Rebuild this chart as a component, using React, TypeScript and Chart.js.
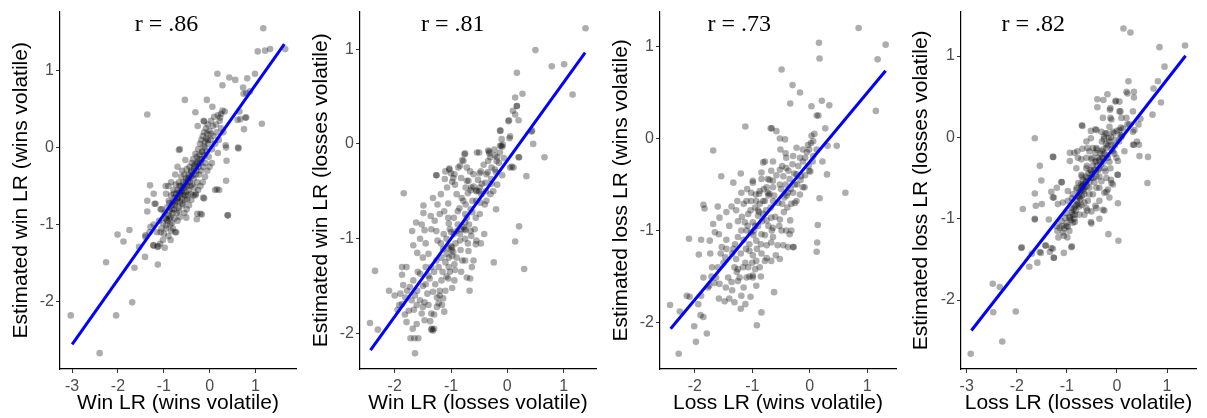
import React, { useEffect, useRef } from "react";
import { Chart, registerables } from "chart.js";
Chart.register(...registerables);

type Pt = [number, number];

// ---------- DATA ----------
const p1Points: Pt[] = [
  [1.17,1.55],[1.05,1.25],[1.21,1.26],[1.32,1.28],[1.65,1.28],[0.17,0.96],[0.43,0.91],[0.56,0.88],[0.82,0.90],[0.99,0.96],
  [0.28,0.81],[0.73,0.78],[0.88,0.73],[0.80,0.71],[0.74,0.70],[-0.54,0.62],[-0.06,0.62],[0.06,0.53],[-1.36,0.43],[-0.31,0.46],
  [-0.12,0.34],[0.25,0.44],[0.33,0.47],[0.65,0.47],[0.61,0.36],[0.80,0.39],[0.75,0.24],[1.14,0.31],[0.62,0.0],[0.35,0.03],
  [0.37,-0.17],[0.18,-0.07],[-0.67,-0.03],[-0.53,-0.16],[0.36,-0.43],[0.39,-0.88],[0.12,-0.55],[0.21,-0.55],[-0.14,-0.65],[-1.30,-0.49],
  [-1.22,-0.60],[-1.36,-0.69],[-1.20,-0.73],[-1.36,-0.83],[-0.20,-0.86],[-0.28,-0.93],[-0.51,-0.91],[-0.73,-1.10],[-1.22,-1.0],[-1.31,-1.10],
  [-1.40,-1.16],[-1.75,-1.07],[-2.01,-1.13],[-1.88,-1.22],[-1.54,-1.29],[-1.41,-1.42],[-1.13,-1.52],[-2.26,-1.49],[-1.64,-1.56],[-1.69,-2.01],
  [-2.04,-2.18],[-3.03,-2.18],[-2.40,-2.67],[-1.22,-1.27],[-0.13,0.35],[-0.26,0.28],[0.23,0.39],[-0.65,-0.02],[0.63,-0.01],[0.36,0.0],
  [0.67,0.37],[0.78,0.39],[-0.96,-0.50],[-0.84,-0.45],[0.16,-0.54],[-0.31,-0.62],[-0.12,-0.66],[0.40,-0.88],[-0.27,-0.86],[-0.17,-0.87],
  [-1.18,-0.73],[-1.29,-1.03],[-1.40,-1.14],[-1.23,-1.27],[-1.14,-1.29],[-1.07,-1.10],[-1.07,-0.80],[-0.89,-0.69],[-0.94,-0.93],[-0.94,-1.01],
  [-0.84,-1.08],[-0.59,-0.73],[-0.49,-0.67],[-0.67,-0.82],
  [-1.12,-1.28],[-1.08,-1.25],[-1.05,-1.05],[-1.02,-0.98],[-1.0,-1.12],[-0.98,-0.85],[-0.96,-0.92],[-0.95,-1.05],[-0.93,-0.78],[-0.92,-0.95],
  [-0.9,-0.88],[-0.9,-1.15],[-0.88,-0.72],[-0.87,-0.82],[-0.86,-1.0],[-0.85,-0.9],[-0.84,-0.62],[-0.83,-0.75],[-0.82,-0.98],[-0.81,-0.85],
  [-0.8,-0.7],[-0.79,-0.55],[-0.78,-0.8],[-0.77,-0.92],[-0.76,-0.65],[-0.75,-0.75],[-0.74,-0.48],[-0.73,-0.6],[-0.72,-0.85],[-0.71,-0.7],
  [-0.7,-0.55],[-0.69,-0.65],[-0.68,-0.78],[-0.67,-0.45],[-0.66,-0.58],[-0.65,-0.7],[-0.64,-0.62],[-0.63,-0.5],[-0.62,-0.38],[-0.61,-0.66],
  [-0.6,-0.56],[-0.59,-0.75],[-0.58,-0.45],[-0.57,-0.6],[-0.56,-0.52],[-0.55,-0.35],[-0.54,-0.68],[-0.53,-0.48],[-0.52,-0.58],[-0.51,-0.4],
  [-0.5,-0.28],[-0.49,-0.5],[-0.48,-0.62],[-0.47,-0.42],[-0.46,-0.35],[-0.45,-0.55],[-0.44,-0.25],[-0.43,-0.45],[-0.42,-0.38],[-0.41,-0.6],
  [-0.4,-0.3],[-0.39,-0.2],[-0.38,-0.48],[-0.37,-0.36],[-0.36,-0.15],[-0.35,-0.4],[-0.34,-0.28],[-0.33,-0.52],[-0.32,-0.22],[-0.31,-0.08],
  [-0.3,-0.35],[-0.29,-0.3],[-0.28,-0.12],[-0.27,-0.45],[-0.26,-0.18],[-0.25,-0.02],[-0.24,-0.25],[-0.23,-0.35],[-0.22,-0.1],[-0.21,0.05],
  [-0.2,-0.2],[-0.19,-0.3],[-0.18,0.1],[-0.17,-0.05],[-0.16,-0.15],[-0.15,0.15],[-0.14,-0.25],[-0.13,0.02],[-0.12,0.2],[-0.11,-0.1],
  [-0.1,0.08],[-0.09,-0.2],[-0.08,0.25],[-0.07,0.12],[-0.06,-0.05],[-0.05,0.18],[-0.04,0.3],[-0.03,0.05],[-0.02,-0.12],[0.0,0.22],
  [0.02,0.1],[0.03,0.35],[0.05,-0.02],[0.07,0.28],[0.08,0.15],[0.1,0.4],[0.12,0.05],[0.14,0.3],[0.15,0.2],[0.18,0.42],
  [0.2,0.1],[0.22,0.35],[0.25,0.25],[0.28,0.48],[0.3,0.2],
  [-0.95,-0.6],[-0.9,-0.5],[-0.85,-1.2],[-0.8,-1.05],[-0.75,-1.1],[-0.7,-0.95],[-0.65,-0.9],[-0.6,-0.3],[-0.55,-0.85],[-0.5,-0.8],
  [-0.45,-0.75],[-0.4,-0.68],[-0.35,-0.62],[-0.3,-0.6],[-0.25,-0.55],[-0.2,-0.5],[-0.15,-0.45],[-0.1,-0.38],[-0.05,-0.3],[0.0,-0.25],
  [0.05,-0.2],[-0.7,-0.25],[-0.75,-0.35],[-1.05,-0.8],[-1.1,-0.95],[-1.15,-1.1],[-0.98,-1.3],[-1.02,-1.2],
  [-0.88,-0.92],[-0.82,-0.8],[-0.76,-0.72],[-0.7,-0.66],[-0.64,-0.58],[-0.58,-0.52],[-0.52,-0.44],[-0.46,-0.4],[-0.4,-0.32],[-0.34,-0.24],
  [-0.28,-0.2],[-0.22,-0.15],[-0.16,-0.06],[-0.1,0.0],[-0.04,0.1],[0.02,0.18],[-0.78,-0.6],[-0.66,-0.5],[-0.54,-0.62],[-0.42,-0.5]
];

const p2Points: Pt[] = [
  [1.39,1.22],[0.50,0.99],[1.01,0.84],[0.79,0.82],[1.16,0.52],[0.17,0.75],[0.27,0.53],[0.14,0.49],[0.17,0.40],[0.10,0.35],
  [0.20,0.25],[0.03,0.25],[-0.13,0.14],[0.05,0.08],[0.04,0.06],[0.44,0.14],[0.46,0.0],[0.66,-0.14],[0.21,-0.14],[0.11,-0.25],
  [0.05,-0.25],[0.34,-0.34],[-0.09,-0.03],[0.21,-0.87],[0.14,-1.03],[-0.24,-1.25],[0.30,-1.32],[-1.84,-0.52],[-2.35,-1.34],[-2.44,-1.89],
  [-2.30,-1.96],[-1.64,-2.21],[-1.58,-2.05],[-1.72,-2.05],[-1.35,-1.96],[-1.26,-0.33],[-1.10,-0.29],[-1.0,-0.31],
  [-0.30,-0.14],[-0.22,-0.12],[-0.54,-0.09],[-0.50,-0.09],[-0.76,-0.11],[-0.78,-0.18],[-0.34,-0.07],[-0.11,-0.02],[-0.08,-0.01],
  [-1.03,-0.26],[-0.94,-0.32],[-0.82,-0.36],[-0.69,-0.39],[-0.60,-0.32],[-0.49,-0.31],[-0.37,-0.32],[-0.39,-0.41],[-0.28,-0.42],[-0.18,-0.43],
  [-0.30,-0.53],[-0.40,-0.64],[-0.20,-0.69],[-0.49,-0.74],[-0.65,-0.49],[-0.62,-0.60],[-0.74,-0.64],[-0.90,-0.53],[-1.05,-0.63],[-1.18,-0.53],
  [-0.93,-0.43],[-1.24,-0.64],[-1.49,-0.65],[-1.49,-0.73],[-1.36,-0.76],[-1.52,-0.85],[-1.62,-0.83],[-1.47,-0.91],[-1.69,-0.92],[-1.67,-1.07],
  [-1.29,-0.81],[-1.26,-0.92],[-1.24,-1.02],[-1.13,-0.95],[-1.04,-0.84],[-0.95,-0.78],[-0.88,-0.71],[-0.84,-0.95],[-0.75,-0.83],[-0.74,-0.91],
  [-0.64,-0.97],[-0.56,-1.06],[-0.55,-1.02],[-0.47,-1.05],[-0.83,-1.12],[-0.98,-1.09],[-1.04,-1.20],[-0.94,-1.27],[-1.04,-1.30],[-0.93,-1.33],
  [-0.80,-1.23],[-0.63,-1.30],[-0.66,-1.42],[-0.67,-1.55],[-0.82,-1.35],[-0.94,-1.44],[-0.98,-1.52],[-1.08,-1.40],[-1.17,-1.44],[-1.20,-1.55],
  [-1.14,-1.63],[-1.12,-1.77],[-1.16,-1.70],[-1.25,-1.72],[-1.35,-1.79],[-1.34,-1.95],[-1.37,-1.87],[-1.47,-1.86],[-1.50,-1.72],[-1.47,-1.67],
  [-1.52,-1.79],[-1.61,-1.70],[-1.64,-1.60],[-1.66,-1.75],[-1.81,-1.62],[-1.87,-1.69],[-1.92,-1.70],[-2.0,-1.60],[-1.85,-1.49],[-1.73,-1.51],
  [-1.67,-1.44],[-1.55,-1.37],[-1.45,-1.48],[-1.40,-1.39],[-1.35,-1.30],[-1.32,-1.56],[-1.26,-1.23],[-1.40,-1.16],[-1.50,-1.20],[-1.59,-1.35],
  [-1.79,-1.30],[-1.87,-1.30],[-1.87,-1.38],[-1.75,-1.76],[-1.79,-1.88],[-1.68,-1.95],[-1.61,-1.90],[-1.17,-1.20],[-1.14,-1.11],[-1.08,-1.16],
  [-1.0,-0.93],[-1.05,-0.78],[-1.12,-0.71],[-1.20,-0.74],[-1.32,-0.57],[-1.07,-0.46],[-0.96,-0.36],[-0.87,-0.25],[-0.80,-0.17],[-0.72,-0.25],
  [-0.66,-0.29],[-0.64,-0.46],[-0.55,-0.50],[-0.46,-0.53],[-0.49,-0.46],[-0.74,-0.46],[-0.81,-0.57],[-0.75,-0.74],[-0.65,-0.69],[-0.56,-0.78],
  [-0.65,-0.92],[-0.90,-0.92],[-0.84,-1.02],[-0.69,-1.13],[-0.75,-1.23],[-0.96,-1.14],[-0.72,-1.41],[-0.60,-1.23],[-0.41,-0.95],[-0.37,-0.60],
  [-0.34,-0.18],[-0.19,-0.18],[-0.13,-0.09],[-0.06,-0.15],
  [-1.0,-1.08],[-0.99,-1.12],[-1.02,-1.35],[-0.78,-0.88],[-0.76,-0.9],[-0.55,-0.49],[-0.5,-0.5],[-1.3,-1.95],[-1.32,-1.97],[-1.05,-1.42],
  [-1.2,-1.6],[-1.22,-1.68],[-1.65,-2.05],[-1.26,-0.33],[-1.03,-0.27],[-0.84,-0.23],[-0.75,-0.10],[-0.32,-0.08],[-0.23,-0.06],[-0.13,-0.02],
  [-0.18,-0.14],[-0.22,-0.27],[-0.09,-0.33],[0.08,-0.24],[0.20,-0.14],[0.43,0.13],[-0.12,0.14],[0.02,0.24],[0.14,0.31],[0.17,0.40],
  [-1.11,-0.37],[-0.98,-0.40],[-0.72,-0.39],[-0.47,-0.29],[-0.29,-0.37],
  [-2.1,-1.55],[-1.95,-1.75],[-1.9,-1.58],[-1.82,-1.8],[-1.78,-1.55],[-1.7,-1.65],[-1.6,-1.55],[-1.55,-1.65],[-1.5,-1.5],[-1.45,-1.3],
  [-1.42,-1.58],[-1.38,-1.42],[-1.3,-1.35],[-1.28,-1.48],[-1.22,-1.3],[-1.18,-1.05],[-1.15,-1.35],[-1.1,-1.25],[-1.08,-1.0],[-1.05,-1.1],
  [-1.02,-0.9],[-0.98,-1.18],[-0.95,-0.95],[-0.92,-1.05],[-0.88,-0.85],[-0.85,-0.68],[-0.82,-0.9],[-0.78,-0.6],[-0.75,-1.0],[-0.72,-0.78],
  [-0.7,-0.52],[-0.68,-0.85],[-0.62,-0.72],[-0.6,-0.45],[-0.58,-0.9],[-0.55,-0.6],[-0.52,-0.38],[-0.48,-0.62],[-0.45,-0.42],[-0.42,-0.22],
  [-0.38,-0.5],[-0.35,-0.3],[-0.32,-0.1],[-0.28,-0.25],[-0.25,-0.5],[-0.2,-0.3],[-0.15,-0.2],[-0.1,0.05],[-1.6,-1.15],[-1.55,-1.0],
  [-1.45,-1.05],[-1.35,-0.9],[-1.4,-1.7],[-1.3,-1.8],[-1.25,-1.62],[-1.1,-1.55],[-0.9,-1.2],[-0.7,-1.05]
];

const p3Points: Pt[] = [
  [0.85,1.20],[0.16,1.04],[0.17,0.87],[1.32,1.02],[1.18,0.86],[1.15,0.30],[-0.49,0.75],[-0.30,0.58],[-0.17,0.50],[-0.34,0.38],
  [0.03,0.35],[0.21,0.41],[0.34,0.36],[0.12,0.25],[0.15,0.25],[-1.12,0.13],[-0.66,0.11],[-0.58,0.08],[-1.68,-0.13],[0.27,0.11],
  [0.47,-0.08],[0.31,-0.08],[0.22,-0.25],[0.30,-0.39],[0.62,-0.59],[0.17,-0.65],[0.14,-0.94],[0.13,-1.13],[0.12,-1.23],[-0.29,-1.18],
  [-0.62,-1.67],[-0.84,-1.89],[-0.92,-2.03],[-2.43,-1.81],[-2.26,-1.88],[-2.28,-2.34],[-1.98,-2.21],[-2.01,-2.04],[-2.10,-1.09],[-1.89,-1.10],
  [-1.93,-1.26],[-1.85,-0.72],[-1.83,-0.76],[-1.60,-0.74],[-1.54,-0.41],[-1.33,-0.48],[-1.20,-0.38],[-0.99,-0.48],[-1.79,-2.12],
  [-0.68,0.11],[-0.43,-0.01],[-0.52,0.0],[-0.51,-0.12],[-0.23,-0.10],[-0.12,-0.12],[-0.01,-0.12],[-0.08,-0.21],[-0.17,-0.21],[-0.42,-0.16],
  [-0.64,-0.25],[-0.81,-0.26],[-0.78,-0.25],[-0.67,-0.35],[-0.52,-0.34],[-0.41,-0.32],[-0.27,-0.38],[-0.15,-0.41],[-0.12,-0.53],[-0.01,-0.35],
  [0.01,-0.36],[-0.26,-0.50],[-0.29,-0.59],[-0.38,-0.59],[-0.52,-0.50],[-0.73,-0.44],[-0.84,-0.37],[-0.99,-0.46],[-1.09,-0.55],[-0.94,-0.61],
  [-0.78,-0.68],[-0.87,-0.71],[-1.02,-0.68],[-1.15,-0.71],[-1.26,-0.68],[-1.36,-0.74],[-1.28,-0.78],[-1.45,-0.80],[-1.57,-0.86],[-1.68,-0.93],
  [-1.65,-1.02],[-1.74,-1.11],[-1.73,-1.25],[-1.58,-1.04],[-1.53,-1.18],[-1.45,-1.20],[-1.47,-1.29],[-1.33,-1.20],[-1.25,-1.07],[-1.19,-1.00],
  [-1.13,-0.91],[-1.07,-0.82],[-0.99,-0.91],[-0.90,-0.84],[-0.81,-0.82],[-0.75,-0.89],[-0.67,-0.86],[-0.64,-0.97],[-0.52,-0.88],[-0.48,-0.71],
  [-0.39,-0.75],[-0.34,-0.89],[-0.41,-1.00],[-0.46,-1.16],[-0.56,-1.16],[-0.64,-1.07],[-0.52,-1.31],[-0.67,-1.33],[-0.75,-1.16],[-0.84,-1.04],
  [-0.93,-1.11],[-1.02,-1.02],[-1.10,-1.0],[-1.11,-1.20],[-0.99,-1.27],[-0.99,-1.49],[-1.07,-1.40],[-1.16,-1.40],[-1.22,-1.51],[-1.31,-1.40],
  [-1.28,-1.31],[-1.42,-1.51],[-1.36,-1.56],[-1.46,-1.62],[-1.40,-1.74],[-1.31,-1.78],[-1.19,-1.71],[-1.12,-1.80],[-1.03,-1.72],[-0.93,-1.60],
  [-0.87,-1.40],[-0.78,-1.33],[-0.84,-1.25],[-1.57,-1.58],[-1.63,-1.51],[-1.71,-1.50],[-1.77,-1.62],[-1.85,-1.51],[-1.89,-1.71],[-1.94,-1.80],
  [-2.14,-1.71],[-2.09,-1.72],[-1.90,-1.92],[-1.85,-1.94],[-1.48,-1.77],[-1.58,-1.74],[-1.66,-1.57],[-1.10,-1.51],[-0.93,-1.33],[-0.99,-1.51],
  [-0.67,-1.13],[-0.59,-1.27],[-0.35,-1.04],[-0.28,-1.18],[-0.38,-1.18],[-0.32,-1.00],[-0.49,-1.0],[-0.32,-0.71],[-0.17,-0.61],[-0.09,-0.53],
  [-0.23,-0.68],[-0.44,-0.64],[-0.64,-0.68],[-0.73,-0.59],[-0.64,-0.53],[-0.75,-0.53],[-0.64,-0.46],[-0.87,-0.57],[-0.93,-0.68],[-1.10,-0.68],
  [-1.19,-0.59],[-1.02,-0.59],[-0.84,-0.44],[-0.81,-0.68],[-0.46,-0.41],[-0.35,-0.44],[-0.23,-0.39],[-0.41,-0.21],[-0.29,-0.19],[0.06,-0.19],
  [0.12,-0.12],[0.06,-0.03],[0.03,0.03],[-0.03,-0.07],[-0.95,-0.95],[-0.97,-1.0],[-1.25,-1.42],[-1.27,-1.45],[-0.9,-0.78],[-0.88,-0.8],
  [-1.05,-1.22],[-0.7,-0.6],[-0.72,-0.62],
  [-1.5,-1.35],[-1.45,-1.1],[-1.4,-0.95],[-1.35,-1.25],[-1.3,-1.15],[-1.25,-0.9],[-1.2,-1.25],[-1.18,-0.85],[-1.15,-1.1],[-1.12,-1.35],
  [-1.08,-0.95],[-1.05,-1.15],[-1.03,-0.78],[-1.0,-1.35],[-0.98,-1.05],[-0.95,-0.75],[-0.92,-1.2],[-0.9,-0.95],[-0.88,-0.6],[-0.85,-1.15],
  [-0.83,-0.9],[-0.8,-0.55],[-0.78,-1.05],[-0.76,-0.78],[-0.72,-0.95],[-0.7,-0.45],[-0.68,-0.75],[-0.66,-1.0],[-0.62,-0.62],[-0.6,-0.85],
  [-0.58,-0.4],[-0.55,-0.7],[-0.53,-0.95],[-0.5,-0.55],[-0.48,-0.3],[-0.45,-0.8],[-0.42,-0.5],[-0.4,-0.62],[-0.37,-0.35],[-0.33,-0.55],
  [-0.3,-0.28],[-0.26,-0.7],[-0.22,-0.5],[-0.2,-0.3],[-0.16,-0.45],[-0.12,-0.25],[-0.08,-0.4],[-0.05,-0.15],[-0.02,-0.3],[0.02,-0.05],
  [0.05,-0.25],[0.08,0.05],[-1.6,-1.4],[-1.55,-1.25],[-1.7,-1.4],[-1.75,-1.6],[-1.35,-1.65],[-1.25,-1.55],[-1.15,-1.62],[-1.05,-1.5],
  [-1.2,-1.85],[-0.95,-1.42],[-0.85,-1.5],[-0.75,-1.3]
];

const p4Points: Pt[] = [
  [0.13,1.34],[0.27,1.29],[0.85,1.11],[1.36,1.13],[0.95,0.87],[0.82,0.69],[0.23,0.69],[0.73,0.60],[0.88,0.43],[0.71,0.28],
  [0.61,-0.56],[0.45,-0.23],[-1.64,-0.01],[-0.70,0.15],[-0.39,0.47],[-0.19,0.53],[-0.02,0.45],[0.19,0.56],[-0.39,0.37],[-1.54,-0.35],
  [-1.28,-0.24],[-1.51,-0.53],[-1.64,-0.69],[-1.28,-0.74],[-1.10,-0.55],[-1.88,-0.88],[-1.64,-1.0],[-1.62,-0.84],[-1.50,-0.82],[-1.91,-1.36],
  [-1.75,-1.59],[-1.59,-1.54],[-1.52,-1.42],[-1.26,-1.48],[-1.31,-1.36],[-1.43,-1.33],[-1.06,-1.42],[-0.91,-1.35],[-0.17,-1.19],[0.03,-1.27],
  [0.02,-0.81],[-0.35,-1.0],[-0.51,-1.06],[-2.48,-1.80],[-2.34,-1.84],[-2.47,-2.15],[-2.02,-2.14],[-2.29,-2.51],[-2.92,-2.66],
  [-0.69,-0.14],[-0.59,-0.13],[-0.48,-0.13],[-0.43,-0.19],[-0.30,-0.17],[-0.21,-0.13],[-0.11,-0.09],[-0.03,-0.03],[0.05,0.09],[0.07,0.03],
  [0.12,0.11],[-0.08,0.07],[-0.15,0.13],[-0.31,0.07],[-0.26,-0.02],[-0.13,0.24],[-0.13,0.36],[0.05,0.32],[-0.28,0.24],[-0.52,-0.01],
  [-0.61,-0.25],[-0.51,-0.27],[-0.41,-0.29],[-0.27,-0.26],[-0.18,-0.25],[-0.35,-0.38],[-0.23,-0.42],[-0.13,-0.38],[-0.01,-0.25],[0.02,-0.46],
  [-0.21,-0.50],[-0.31,-0.54],[-0.41,-0.48],[-0.51,-0.42],[-0.61,-0.38],[-0.71,-0.46],[-0.77,-0.56],[-0.81,-0.38],[-0.61,-0.54],[-0.55,-0.62],
  [-0.48,-0.70],[-0.41,-0.62],[-0.35,-0.78],[-0.25,-0.68],[-0.18,-0.64],[-0.11,-0.56],[-0.68,-0.64],[-0.81,-0.64],[-0.75,-0.74],[-0.88,-0.70],
  [-0.98,-0.78],[-0.91,-0.87],[-0.81,-0.83],[-0.71,-0.83],[-0.61,-0.87],[-1.01,-0.93],[-1.04,-0.99],[-0.94,-0.99],[-0.84,-0.95],[-0.75,-0.95],
  [-1.11,-1.03],[-1.21,-1.09],[-1.14,-1.11],[-1.01,-1.09],[-0.88,-1.05],[-1.08,-1.17],[-1.19,-1.15],[-1.08,-0.80],[-1.18,-0.82],[-0.98,-0.66],
  [-0.78,-0.25],[-0.94,-0.19],[-0.65,-0.70],[-0.58,-0.78],[-0.51,-0.91],[-0.65,-0.95],[-0.41,-0.87],[-0.28,-0.89],[-0.35,-0.62],[-0.15,-0.74],
  [-0.08,-0.58],[0.02,-0.29],[0.15,-0.17],[0.32,0.07],[0.35,0.09],[0.43,0.16],[0.25,0.16],[0.19,0.24],[0.32,0.32],[0.40,-0.05],
  [0.32,-0.09],[0.05,0.44],[-0.08,-0.17],[-0.16,-0.01],[-0.23,0.05],[-0.41,-0.13],[-0.55,-0.17],[-0.71,-0.27],[-0.85,-0.19],[-0.94,-0.29],
  [-0.61,-0.05],[-0.41,0.09],[-0.52,0.08],
  [0.21,0.54],[0.34,0.56],[0.34,0.49],[-0.27,0.46],[-0.03,0.44],[-0.14,0.34],[-0.11,0.22],[0.07,0.32],[0.09,0.24],[0.47,0.23],
  [0.21,0.16],[-0.69,0.14],[-0.43,0.10],[-1.27,-0.24],[-1.11,-0.55],[-0.79,-0.17],[-0.26,0.01],[0.44,-0.09],[0.34,-0.09],[0.62,-0.24],
  [0.01,-0.46],[-0.12,-0.52],[0.08,0.0],
  [-1.31,-0.67],[-1.20,-0.62],[-1.26,-0.74],[-1.64,-1.01],[-1.36,-1.01],[-1.17,-1.23],[-1.06,-1.21],[-0.90,-1.34],[-1.90,-1.35],[-1.42,-1.33],
  [-1.28,-1.37],[-1.34,-1.41],[-1.54,-1.41],[-1.26,-1.48],[-1.70,-1.43],[-0.21,-0.67],[-0.25,-0.90],[-0.43,-0.84],[-0.59,-0.90],[-0.84,-1.04],
  [-0.99,-1.23],[-1.10,-1.09],[-0.52,-1.04],[-0.7,-0.6],[-0.72,-0.58],[-0.68,-0.52],[-0.66,-0.66],
  [-1.05,-1.12],[-1.0,-1.05],[-0.98,-1.1],[-0.95,-0.98],[-0.92,-1.02],[-0.9,-0.92],[-0.88,-0.95],[-0.86,-0.88],[-0.84,-0.85],[-0.82,-0.9],
  [-0.8,-0.78],[-0.78,-0.82],[-0.77,-0.72],[-0.75,-0.68],[-0.73,-0.76],[-0.72,-0.65],[-0.7,-0.72],[-0.69,-0.6],[-0.67,-0.58],[-0.65,-0.62],
  [-0.63,-0.55],[-0.62,-0.48],[-0.6,-0.6],[-0.58,-0.5],[-0.57,-0.44],[-0.55,-0.55],[-0.53,-0.4],[-0.52,-0.5],[-0.5,-0.45],[-0.48,-0.35],
  [-0.47,-0.5],[-0.45,-0.4],[-0.43,-0.3],[-0.42,-0.42],[-0.4,-0.35],[-0.38,-0.25],[-0.37,-0.4],[-0.35,-0.28],[-0.33,-0.2],[-0.32,-0.33],
  [-0.3,-0.25],[-0.28,-0.15],[-0.27,-0.3],[-0.25,-0.2],[-0.22,-0.08],[-0.2,-0.22],[-0.18,-0.1],[-0.15,-0.05],[-0.12,0.0],[-0.1,-0.15],
  [-0.06,0.05],[-0.04,-0.1],[0.0,0.08],[0.04,-0.05],[0.08,0.12],[0.1,0.02],[-0.95,-1.15],[-0.85,-1.0],[-0.75,-0.85],[-0.65,-0.8],
  [-0.55,-0.7],[-0.45,-0.55],[-0.35,-0.48],[-0.25,-0.38],[-0.15,-0.3],[-0.05,-0.2],[-0.9,-0.75],[-0.8,-0.62],[-0.7,-0.48],[-0.6,-0.35],
  [-0.5,-0.25],[-0.4,-0.15],[-0.3,-0.05],[-0.2,0.05]
];

const xTitles = ["Win LR (wins volatile)", "Win LR (losses volatile)", "Loss LR (wins volatile)", "Loss LR (losses volatile)"];
const yTitles = ["Estimated win LR (wins volatile)", "Estimated win LR (losses volatile)", "Estimated loss LR (wins volatile)", "Estimated loss LR (losses volatile)"];
const rLabels = ["r = .86", "r = .81", "r = .73", "r = .82"];
const rLabelAt: Pt[] = [[-0.94, 1.6], [-0.97, 1.257], [-1.225, 1.237], [-1.67, 1.383]];
const fitStart: Pt[] = [[-3.0, -2.556], [-2.43, -2.177], [-2.42, -2.067], [-2.906, -2.375]];
const fitEnd: Pt[] = [[1.63, 1.345], [1.383, 0.963], [1.319, 0.736], [1.371, 1.004]];
const xRanges: Pt[] = [[-3.265, 1.885], [-2.617, 1.576], [-2.605, 1.5], [-3.114, 1.579]];
const yRanges: Pt[] = [[-2.876, 1.767], [-2.375, 1.396], [-2.505, 1.379], [-2.848, 1.547]];
const allPoints = [p1Points, p2Points, p3Points, p4Points];

// ---------- LAYOUT ----------
const H = 418;
const panels = [
  { left: 0, width: 302, yw: 60, pr: 6 },
  { left: 300, width: 302, yw: 60, pr: 6 },
  { left: 600, width: 302, yw: 60, pr: 6 },
  { left: 900, width: 307, yw: 61, pr: 11 },
];
const SANS = '"Liberation Sans", Arial, sans-serif';

function Panel({ i }: { i: number }) {
  const ref = useRef<HTMLCanvasElement | null>(null);
  useEffect(() => {
    const cv = ref.current;
    if (!cv) return;
    const lay = panels[i];
    const rPlugin = {
      id: "rlabel" + i,
      afterDatasetsDraw(chart: any) {
        const { ctx, scales } = chart;
        const px = scales.x.getPixelForValue(rLabelAt[i][0]);
        const py = scales.y.getPixelForValue(rLabelAt[i][1]);
        ctx.save();
        ctx.font = '24px "Liberation Serif", "Times New Roman", serif';
        ctx.fillStyle = "#000";
        ctx.textAlign = "center";
        ctx.textBaseline = "middle";
        ctx.fillText(rLabels[i], px, py);
        ctx.restore();
      },
    };
    const chart = new Chart(cv, {
      type: "scatter",
      data: {
        datasets: [
          {
            data: [
              { x: fitStart[i][0], y: fitStart[i][1] },
              { x: fitEnd[i][0], y: fitEnd[i][1] },
            ],
            showLine: true,
            borderColor: "#0000FF",
            borderWidth: 3,
            pointRadius: 0,
            order: 0,
          } as any,
          {
            data: allPoints[i].map(([x, y]) => ({ x, y })),
            backgroundColor: "rgba(0,0,0,0.32)",
            borderWidth: 0,
            pointRadius: 3.3,
            order: 1,
          },
        ],
      },
      options: {
        animation: false,
        responsive: false,
        devicePixelRatio: 1,
        layout: { padding: { top: 10, right: lay.pr, left: 0, bottom: 0 } },
        plugins: { legend: { display: false }, tooltip: { enabled: false } },
        scales: {
          x: {
            type: "linear",
            min: xRanges[i][0],
            max: xRanges[i][1],
            afterFit: (s: any) => { s.height = 49; },
            ticks: {
              stepSize: 1,
              includeBounds: false,
              color: "#4D4D4D",
              font: { family: SANS, size: 16 },
              padding: 4,
              callback: (v: any) => String(v),
            },
            grid: { display: true, drawOnChartArea: false, drawTicks: true, tickLength: 4, color: "#333333", lineWidth: 1 },
            border: { display: true, color: "#000000", width: 1.2 },
            title: {
              display: true,
              text: xTitles[i],
              color: "#000",
              font: { family: SANS, size: 21 },
              padding: { top: 0, bottom: 2 },
            },
          },
          y: {
            type: "linear",
            min: yRanges[i][0],
            max: yRanges[i][1],
            afterFit: (s: any) => { s.width = lay.yw; },
            ticks: {
              stepSize: 1,
              includeBounds: false,
              color: "#4D4D4D",
              font: { family: SANS, size: 16 },
              padding: 2,
              callback: (v: any) => String(v),
            },
            grid: { display: true, drawOnChartArea: false, drawTicks: true, tickLength: 4, color: "#333333", lineWidth: 1 },
            border: { display: true, color: "#000000", width: 1.2 },
            title: {
              display: true,
              text: yTitles[i],
              color: "#000",
              font: { family: SANS, size: 21 },
              padding: { top: 9, bottom: 0 },
            },
          },
        },
      } as any,
      plugins: [rPlugin],
    });
    return () => chart.destroy();
  }, [i]);
  const lay = panels[i];
  return (
    <canvas
      ref={ref}
      width={lay.width}
      height={H}
      style={{ position: "absolute", left: lay.left, top: 0, width: lay.width, height: H }}
    />
  );
}

export default function App() {
  return (
    <div style={{ position: "absolute", left: 0, top: 0, width: 1207, height: H, background: "#fff", overflow: "hidden" }}>
      {[0, 1, 2, 3].map((i) => (
        <Panel key={i} i={i} />
      ))}
    </div>
  );
}
